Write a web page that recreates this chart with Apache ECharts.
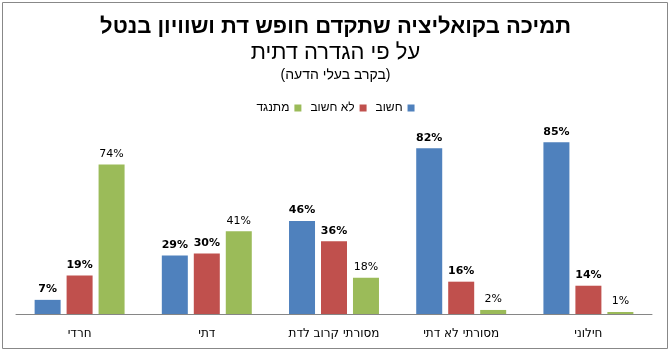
<!DOCTYPE html>
<html>
<head>
<meta charset="utf-8">
<script src="https://cdn.jsdelivr.net/npm/echarts@6/dist/echarts.min.js"></script>
<style>
	html, body {
		margin: 0;
		padding: 0;
		background: #fff;
	}
	#main {
		width: 671px;
		height: 352px;
	}
</style>
</head>
<body>
<div id="main"></div>
<script>
	// קטגוריות (משמאל לימין כמו בתמונה)
	var categories = ['חרדי', 'דתי', 'מסורתי קרוב לדת', 'מסורתי לא דתי', 'חילוני']
	var important = [7, 29, 46, 82, 85]
	var notImportant = [19, 30, 36, 16, 14]
	var against = [74, 41, 18, 2, 1]

	var seriesNames = ['חשוב', 'לא חשוב', 'מתנגד']
	var colors = ['#4F81BD', '#C0504D', '#9BBB59']

	var font = '"Liberation Sans", Arial, sans-serif'
	var labelFont = '"DejaVu Sans", Verdana, sans-serif'

	function barSeries(name, data, color, bold) {
		return {
			name: name,
			type: 'bar',
			data: data,
			barWidth: 26,
			barGap: '23%',
			itemStyle: { color: color },
			label: {
				show: true,
				position: 'top',
				distance: 5,
				formatter: '{c}%',
				color: '#000',
				fontSize: 11,
				fontWeight: bold ? 'bold' : 'normal',
				fontFamily: labelFont,
			},
		}
	}

	var myChart = echarts.init(document.getElementById('main'))
	myChart.setOption({
		animation: false,
		title: [
			{
				text: 'תמיכה בקואליציה שתקדם חופש דת ושוויון בנטל',
				left: 'center',
				top: 11,
				textStyle: { fontSize: 22, fontWeight: 'bold', color: '#000', fontFamily: font },
			},
			{
				text: 'על פי הגדרה דתית',
				left: 'center',
				top: 37,
				textStyle: { fontSize: 22, fontWeight: 'normal', color: '#000', fontFamily: font },
			},
			{
				text: '(בקרב בעלי הדעה)',
				left: 'center',
				top: 63,
				textStyle: { fontSize: 14, fontWeight: 'normal', color: '#000', fontFamily: font },
			},
		],
		legend: {
			data: ['מתנגד', 'לא חשוב', 'חשוב'],
			top: 97,
			left: 'center',
			align: 'right',
			itemWidth: 7,
			itemHeight: 7,
			itemGap: 9,
			icon: 'rect',
			textStyle: { fontSize: 12, color: '#000', fontFamily: font },
		},
		grid: {
			left: 16,
			right: 19,
			top: 112,
			bottom: 38,
		},
		xAxis: {
			type: 'category',
			data: categories,
			axisLine: { lineStyle: { color: '#868686' } },
			axisTick: { show: false },
			axisLabel: { color: '#000', fontSize: 12, margin: 14, fontFamily: labelFont },
		},
		yAxis: {
			type: 'value',
			min: 0,
			max: 100,
			show: false,
			splitLine: { show: false },
		},
		series: [
			barSeries(seriesNames[0], important, colors[0], true),
			barSeries(seriesNames[1], notImportant, colors[1], true),
			barSeries(seriesNames[2], against, colors[2], false),
		],
		// מסגרת סביב התרשים
		graphic: [
			{
				type: 'rect',
				shape: { x: 2.5, y: 2.5, width: 665, height: 346 },
				style: { fill: 'none', stroke: '#888', lineWidth: 1 },
			},
		],
	})
</script>
</body>
</html>
